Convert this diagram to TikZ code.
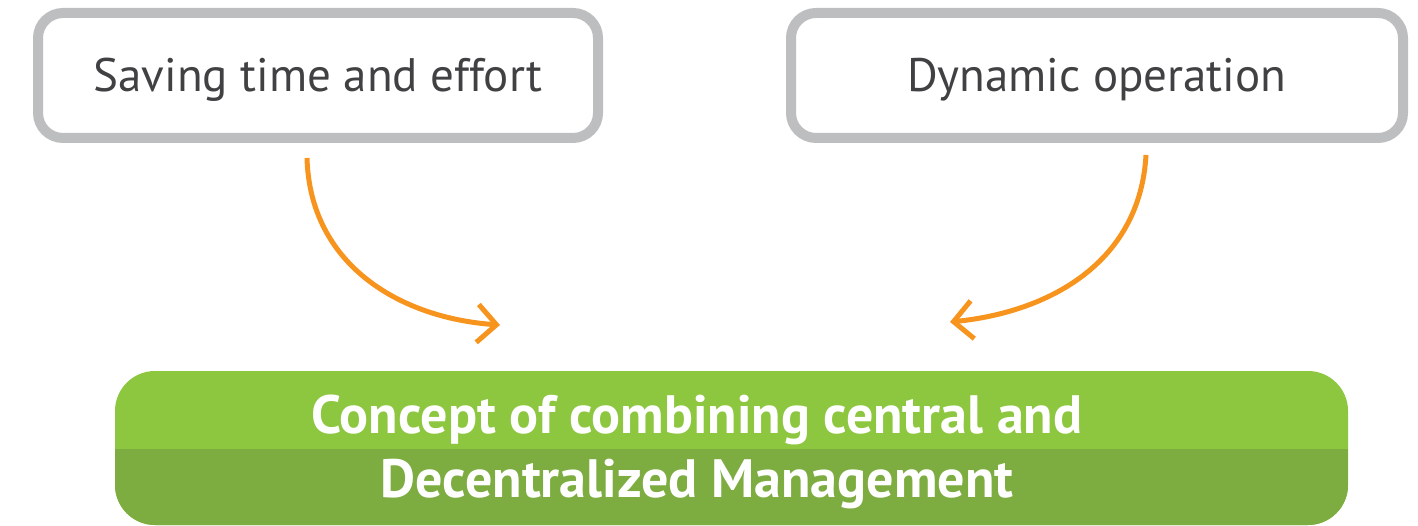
\documentclass[tikz,border=0pt]{standalone}
\usepackage{fontspec}
\setmainfont{PT Sans}
\usetikzlibrary{arrows.meta}
\definecolor{boxgray}{HTML}{BCBEC0}
\definecolor{txtgray}{HTML}{414042}
\definecolor{arrorange}{HTML}{F7941D}
\definecolor{greentop}{HTML}{8DC63F}
\definecolor{greenbot}{HTML}{7DAC40}
\tikzset{
  topbox/.style={draw=boxgray, line width=10pt, rounded corners=25pt, fill=white,
    text=txtgray, font=\fontsize{47}{56}\selectfont, minimum height=125pt, inner sep=0pt,
    text height=33pt, text depth=0pt},
  flow/.style={draw=arrorange, line width=5pt,
    -{Straight Barb[length=19pt,width=38pt]}},
}
\begin{document}
\begin{tikzpicture}[x=1pt,y=-1pt]
\useasboundingbox (0,0) rectangle (1418,526);
\node[topbox, minimum width=560pt] (a) at (318,75.5) {Saving time and effort};
\node[topbox, minimum width=612pt] (b) at (1097,75.5) {Dynamic operation};
% green box
\fill[greentop, rounded corners=40pt] (115,371) rectangle (1348,525);
\begin{scope}
  \clip[rounded corners=40pt] (115,371) rectangle (1348,525);
  \fill[greenbot] (115,449) rectangle (1348,526);
\end{scope}
\node[text=white, font=\bfseries\fontsize{54}{64}\selectfont, align=center, inner sep=0pt]
  (c) at (697,452) {Concept of combining central and\\Decentralized Management};
\coordinate (s1) at ([xshift=-11pt,yshift=-15pt]a.south);
\coordinate (e1) at (500,325);
\coordinate (s2) at ([xshift=49pt,yshift=-12pt]b.south);
\coordinate (e2) at (950,322);
\draw[flow] (s1) .. controls (310,265) and (400,318) .. (e1);
\draw[flow] (s2) .. controls (1140,262) and (1050,312) .. (e2);
\end{tikzpicture}
\end{document}
